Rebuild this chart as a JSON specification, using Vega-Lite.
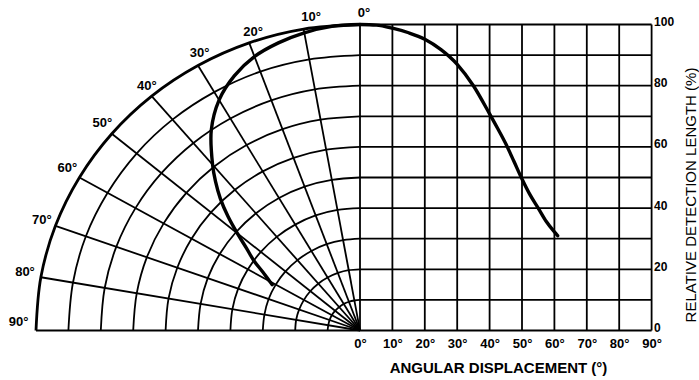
{
  "$schema": "https://vega.github.io/schema/vega-lite/v6.json",
  "autosize": "none",
  "width": 615.6,
  "height": 306,
  "padding": {"left": 36, "top": 24.5, "right": 47.4, "bottom": 49.5},
  "background": "white",
  "config": {"view": {"stroke": null}, "font": "Liberation Sans"},
  "datasets": {
    "rings": [
      {"ring":10,"a":0,"x":0,"y":10},{"ring":10,"a":10,"x":-1.7,"y":9.8},{"ring":10,"a":20,"x":-3.4,"y":9.4},{"ring":10,"a":30,"x":-5,"y":8.7},{"ring":10,"a":40,"x":-6.4,"y":7.7},{"ring":10,"a":50,"x":-7.7,"y":6.4},{"ring":10,"a":60,"x":-8.7,"y":5},{"ring":10,"a":70,"x":-9.4,"y":3.4},{"ring":10,"a":80,"x":-9.8,"y":1.7},{"ring":10,"a":90,"x":-10,"y":0},
      {"ring":20,"a":0,"x":0,"y":20},{"ring":20,"a":10,"x":-3.5,"y":19.7},{"ring":20,"a":20,"x":-6.8,"y":18.8},{"ring":20,"a":30,"x":-10,"y":17.3},{"ring":20,"a":40,"x":-12.9,"y":15.3},{"ring":20,"a":50,"x":-15.3,"y":12.9},{"ring":20,"a":60,"x":-17.3,"y":10},{"ring":20,"a":70,"x":-18.8,"y":6.8},{"ring":20,"a":80,"x":-19.7,"y":3.5},{"ring":20,"a":90,"x":-20,"y":0},
      {"ring":30,"a":0,"x":0,"y":30},{"ring":30,"a":10,"x":-5.2,"y":29.5},{"ring":30,"a":20,"x":-10.3,"y":28.2},{"ring":30,"a":30,"x":-15,"y":26},{"ring":30,"a":40,"x":-19.3,"y":23},{"ring":30,"a":50,"x":-23,"y":19.3},{"ring":30,"a":60,"x":-26,"y":15},{"ring":30,"a":70,"x":-28.2,"y":10.3},{"ring":30,"a":80,"x":-29.5,"y":5.2},{"ring":30,"a":90,"x":-30,"y":0},
      {"ring":40,"a":0,"x":0,"y":40},{"ring":40,"a":10,"x":-6.9,"y":39.4},{"ring":40,"a":20,"x":-13.7,"y":37.6},{"ring":40,"a":30,"x":-20,"y":34.6},{"ring":40,"a":40,"x":-25.7,"y":30.6},{"ring":40,"a":50,"x":-30.6,"y":25.7},{"ring":40,"a":60,"x":-34.6,"y":20},{"ring":40,"a":70,"x":-37.6,"y":13.7},{"ring":40,"a":80,"x":-39.4,"y":6.9},{"ring":40,"a":90,"x":-40,"y":0},
      {"ring":50,"a":0,"x":0,"y":50},{"ring":50,"a":10,"x":-8.7,"y":49.2},{"ring":50,"a":20,"x":-17.1,"y":47},{"ring":50,"a":30,"x":-25,"y":43.3},{"ring":50,"a":40,"x":-32.1,"y":38.3},{"ring":50,"a":50,"x":-38.3,"y":32.1},{"ring":50,"a":60,"x":-43.3,"y":25},{"ring":50,"a":70,"x":-47,"y":17.1},{"ring":50,"a":80,"x":-49.2,"y":8.7},{"ring":50,"a":90,"x":-50,"y":0},
      {"ring":60,"a":0,"x":0,"y":60},{"ring":60,"a":10,"x":-10.4,"y":59.1},{"ring":60,"a":20,"x":-20.5,"y":56.4},{"ring":60,"a":30,"x":-30,"y":52},{"ring":60,"a":40,"x":-38.6,"y":46},{"ring":60,"a":50,"x":-46,"y":38.6},{"ring":60,"a":60,"x":-52,"y":30},{"ring":60,"a":70,"x":-56.4,"y":20.5},{"ring":60,"a":80,"x":-59.1,"y":10.4},{"ring":60,"a":90,"x":-60,"y":0},
      {"ring":70,"a":0,"x":0,"y":70},{"ring":70,"a":10,"x":-12.2,"y":68.9},{"ring":70,"a":20,"x":-23.9,"y":65.8},{"ring":70,"a":30,"x":-35,"y":60.6},{"ring":70,"a":40,"x":-45,"y":53.6},{"ring":70,"a":50,"x":-53.6,"y":45},{"ring":70,"a":60,"x":-60.6,"y":35},{"ring":70,"a":70,"x":-65.8,"y":23.9},{"ring":70,"a":80,"x":-68.9,"y":12.2},{"ring":70,"a":90,"x":-70,"y":0},
      {"ring":80,"a":0,"x":0,"y":80},{"ring":80,"a":10,"x":-13.9,"y":78.8},{"ring":80,"a":20,"x":-27.4,"y":75.2},{"ring":80,"a":30,"x":-40,"y":69.3},{"ring":80,"a":40,"x":-51.4,"y":61.3},{"ring":80,"a":50,"x":-61.3,"y":51.4},{"ring":80,"a":60,"x":-69.3,"y":40},{"ring":80,"a":70,"x":-75.2,"y":27.4},{"ring":80,"a":80,"x":-78.8,"y":13.9},{"ring":80,"a":90,"x":-80,"y":0},
      {"ring":90,"a":0,"x":0,"y":90},{"ring":90,"a":10,"x":-15.6,"y":88.6},{"ring":90,"a":20,"x":-30.8,"y":84.6},{"ring":90,"a":30,"x":-45,"y":77.9},{"ring":90,"a":40,"x":-57.9,"y":68.9},{"ring":90,"a":50,"x":-68.9,"y":57.9},{"ring":90,"a":60,"x":-77.9,"y":45},{"ring":90,"a":70,"x":-84.6,"y":30.8},{"ring":90,"a":80,"x":-88.6,"y":15.6},{"ring":90,"a":90,"x":-90,"y":0},
      {"ring":100,"a":0,"x":0,"y":100},{"ring":100,"a":10,"x":-17.4,"y":98.5},{"ring":100,"a":20,"x":-34.2,"y":94},{"ring":100,"a":30,"x":-50,"y":86.6},{"ring":100,"a":40,"x":-64.3,"y":76.6},{"ring":100,"a":50,"x":-76.6,"y":64.3},{"ring":100,"a":60,"x":-86.6,"y":50},{"ring":100,"a":70,"x":-94,"y":34.2},{"ring":100,"a":80,"x":-98.5,"y":17.4},{"ring":100,"a":90,"x":-100,"y":0}
    ],
    "lines": [
      {"x":0,"y":0,"x2":-17.4,"y2":98.5},{"x":0,"y":0,"x2":-34.2,"y2":94},{"x":0,"y":0,"x2":-50,"y2":86.6},{"x":0,"y":0,"x2":-64.3,"y2":76.6},
      {"x":0,"y":0,"x2":-76.6,"y2":64.3},{"x":0,"y":0,"x2":-86.6,"y2":50},{"x":0,"y":0,"x2":-94,"y2":34.2},{"x":0,"y":0,"x2":-98.5,"y2":17.4},
      {"x":0,"y":0,"x2":0,"y2":100},{"x":10,"y":0,"x2":10,"y2":100},{"x":20,"y":0,"x2":20,"y2":100},{"x":30,"y":0,"x2":30,"y2":100},{"x":40,"y":0,"x2":40,"y2":100},
      {"x":50,"y":0,"x2":50,"y2":100},{"x":60,"y":0,"x2":60,"y2":100},{"x":70,"y":0,"x2":70,"y2":100},{"x":80,"y":0,"x2":80,"y2":100},{"x":90,"y":0,"x2":90,"y2":100},
      {"x":-100,"y":0,"x2":90,"y2":0},{"x":0,"y":10,"x2":90,"y2":10},{"x":0,"y":20,"x2":90,"y2":20},{"x":0,"y":30,"x2":90,"y2":30},{"x":0,"y":40,"x2":90,"y2":40},
      {"x":0,"y":50,"x2":90,"y2":50},{"x":0,"y":60,"x2":90,"y2":60},{"x":0,"y":70,"x2":90,"y2":70},{"x":0,"y":80,"x2":90,"y2":80},{"x":0,"y":90,"x2":90,"y2":90},{"x":0,"y":100,"x2":90,"y2":100}
    ],
    "curve": [
      {"x":0,"y":100},{"x":5,"y":99.8},{"x":10,"y":98.8},{"x":15,"y":97.3},{"x":20,"y":95.2},{"x":25,"y":91.8},{"x":30,"y":87},{"x":35,"y":80},{"x":40,"y":70.8},{"x":42.5,"y":66},{"x":45,"y":61},{"x":47.5,"y":55.3},{"x":50,"y":49.5},{"x":52.5,"y":44.3},{"x":55,"y":40},{"x":57.5,"y":35.6},{"x":60,"y":32.2},{"x":61,"y":31}
    ],
    "polar": [
      {"a":0,"x":0,"y":100},{"a":5,"x":-8.7,"y":99.4},{"a":10,"x":-17.2,"y":97.3},{"a":15,"x":-25.2,"y":94},{"a":20,"x":-32.6,"y":89.5},{"a":25,"x":-38.8,"y":83.2},{"a":30,"x":-43.5,"y":75.3},{"a":35,"x":-45.9,"y":65.5},{"a":40,"x":-45.5,"y":54.2},{"a":42.5,"x":-44.6,"y":48.7},{"a":45,"x":-43.1,"y":43.1},{"a":47.5,"x":-40.8,"y":37.4},{"a":50,"x":-37.9,"y":31.8},{"a":52.5,"x":-35.1,"y":27},{"a":55,"x":-32.8,"y":22.9},{"a":57.5,"x":-30,"y":19.1},{"a":60,"x":-27.9,"y":16.1},{"a":61,"x":-27.1,"y":15}
    ],
    "labels": [
      {"t":"0°","x":1.2,"y":103.6},{"t":"10°","x":-15.1,"y":102.6},{"t":"20°","x":-33,"y":97.4},{"t":"30°","x":-49.5,"y":90.7},{"t":"40°","x":-65.8,"y":80},
      {"t":"50°","x":-79.5,"y":67.8},{"t":"60°","x":-90.3,"y":53.1},{"t":"70°","x":-98.2,"y":36.2},{"t":"80°","x":-103.4,"y":19},{"t":"90°","x":-105.4,"y":2.8}
    ]
  },
  "encoding": {
    "x": {"field": "x", "type": "quantitative",
      "scale": {"domain": [-100, 90], "nice": false, "zero": false},
      "axis": {"values": [0,10,20,30,40,50,60,70,80,90], "labelExpr": "datum.value + '°'", "grid": false, "ticks": false, "domain": false,
        "labelFontSize": 13, "labelFontWeight": "bold", "labelColor": "black", "labelPadding": 7, "labelFlush": false,
        "title": "ANGULAR DISPLACEMENT (°)", "titleFontSize": 15, "titleFontWeight": "bold", "titleColor": "black",
        "titleX": 462, "titleY": 37, "titleAlign": "center", "titleBaseline": "middle"}},
    "y": {"field": "y", "type": "quantitative",
      "scale": {"domain": [0, 100], "nice": false, "zero": false},
      "axis": {"orient": "right", "values": [0,20,40,60,80,100], "grid": false, "ticks": false, "domain": false,
        "labelFontSize": 12, "labelFontWeight": "bold", "labelColor": "black", "labelPadding": 2, "labelAlign": "left", "labelBaseline": "middle", "labelOffset": -3, "labelFlush": false,
        "title": "RELATIVE DETECTION LENGTH (%)", "titleFontSize": 15, "titleFontWeight": "normal", "titleColor": "black",
        "titleAngle": 270, "titleX": 39, "titleY": 170, "titleAlign": "center", "titleBaseline": "middle"}}
  },
  "layer": [
    {
      "data": {"name": "rings"},
      "mark": {"type": "line", "interpolate": "catmull-rom", "color": "black"},
      "encoding": {
        "detail": {"field": "ring", "type": "nominal"},
        "order": {"field": "a", "type": "quantitative"},
        "strokeWidth": {"condition": {"test": "datum.ring == 100", "value": 2.8}, "value": 1.8}
      }
    },
    {
      "data": {"name": "lines"},
      "mark": {"type": "rule", "color": "black", "strokeWidth": 1.8},
      "encoding": {
        "x2": {"field": "x2"},
        "y2": {"field": "y2"}
      }
    },
    {
      "data": {"name": "curve"},
      "mark": {"type": "line", "interpolate": "monotone", "color": "black", "strokeWidth": 3.4, "strokeCap": "round"},
      "encoding": {}
    },
    {
      "data": {"name": "polar"},
      "mark": {"type": "line", "interpolate": "catmull-rom", "color": "black", "strokeWidth": 3.4, "strokeCap": "round"},
      "encoding": {"order": {"field": "a", "type": "quantitative"}}
    },
    {
      "data": {"name": "labels"},
      "mark": {"type": "text", "fontSize": 13, "fontWeight": "bold", "color": "black", "align": "center", "baseline": "middle"},
      "encoding": {"text": {"field": "t", "type": "nominal"}}
    }
  ]
}
